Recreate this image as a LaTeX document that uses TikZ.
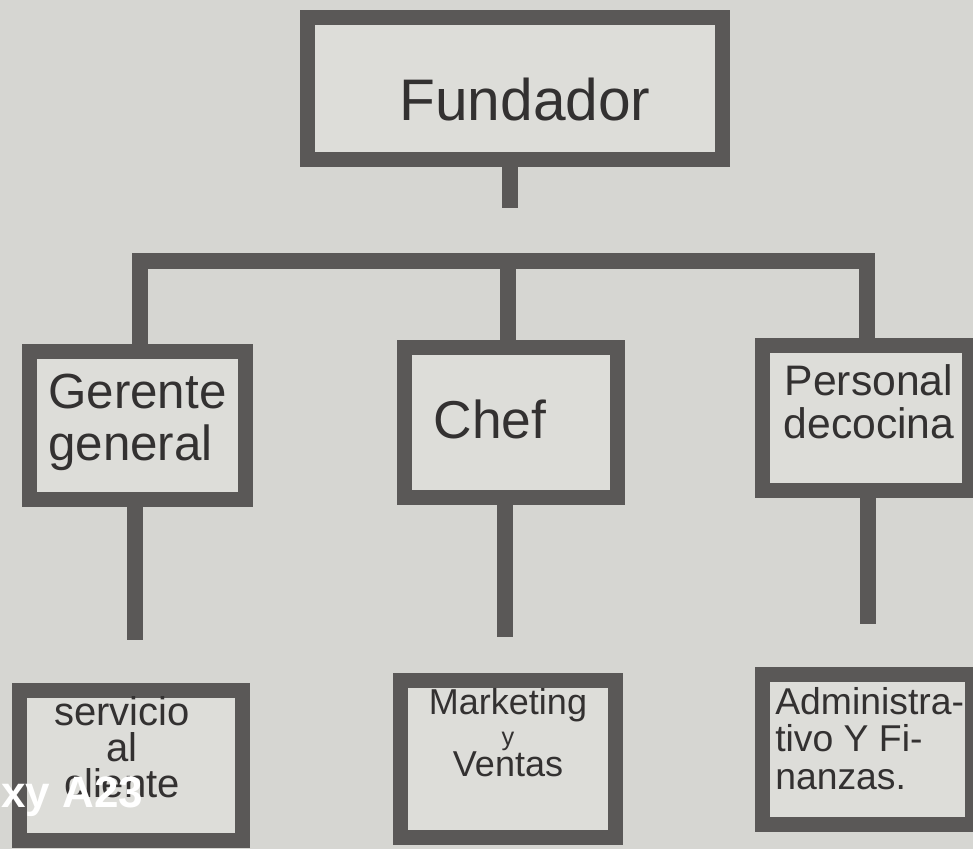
\documentclass[tikz,border=0pt]{standalone}
\usepackage{fontspec}
\setmainfont{Liberation Sans}
\definecolor{paper}{HTML}{D6D6D2}
\definecolor{boxin}{HTML}{DDDDD9}
\definecolor{ink}{HTML}{5A5857}
\definecolor{pen}{HTML}{333131}
\pgfdeclarelayer{paperlayer}
\pgfdeclarelayer{bg}
\pgfsetlayers{paperlayer,bg,main}
\tikzset{
  box/.style={draw=ink, fill=boxin, line width=11.25pt, inner sep=0pt},
  conn/.style={draw=ink, line width=12pt},
  hand/.style={text=pen, inner sep=0pt, execute at begin node={\lineskiplimit=-100pt}},
}
\begin{document}
\begin{tikzpicture}[x=0.75pt, y=-0.75pt]
\useasboundingbox (0,0) rectangle (973,849);
\begin{pgfonlayer}{paperlayer}
  \fill[paper] (0,0) rectangle (973,849);
\end{pgfonlayer}
\clip (0,0) rectangle (973,849);
% boxes
\node[box, minimum width=311.25pt, minimum height=106.5pt] (F) at (515,88.5) {};
\node[box, minimum width=162pt, minimum height=111pt] (G) at (137.5,425.5) {};
\node[box, minimum width=159.75pt, minimum height=112.5pt] (C) at (511,422.5) {};
\node[box, minimum width=155.25pt, minimum height=108.75pt] (P) at (866,418) {};
\node[box, minimum width=167.25pt, minimum height=112.5pt] (S) at (131,765.5) {};
\node[box, minimum width=161.25pt, minimum height=117.75pt] (M) at (508,759) {};
\node[box, minimum width=157.5pt, minimum height=112.5pt] (A) at (867.5,749.5) {};
% texts (base anchor of a multi-line node = baseline of its last line)
\node[hand, anchor=base, font=\fontsize{44}{50}\selectfont] (Ft) at (525,120) {Fundador};
\node[hand, anchor=base, font=\fontsize{40}{44}\selectfont] (Ct) at (490,438) {Chef};
\node[hand, anchor=base west, align=left, font=\fontsize{37}{39}\selectfont] (Gt) at (48,460) {Gerente\\general};
\node[hand, anchor=base, align=center, font=\fontsize{32}{32}\selectfont] (Pt) at (869,438) {Personal\\decocina};
\node[hand, anchor=base, align=center, font=\fontsize{30}{27}\selectfont] (St) at (122,797) {servicio\\al\\cliente};
\node[hand, anchor=base, align=center, font=\fontsize{27}{23}\selectfont] (Mt) at (508,776) {Marketing\\{\fontsize{19}{23}\selectfont y}\\Ventas};
\node[hand, anchor=base west, align=left, font=\fontsize{28}{28}\selectfont] (At) at (775,789) {Administra-\\tivo Y Fi-\\nanzas.};
\node[anchor=base west, text=white, inner sep=0pt, font=\bfseries\fontsize{33}{36}\selectfont] (wm) at (1,807) {xy A23};
% connector coordinates
\coordinate (fs) at (510,208);
\coordinate (barL) at (140,261);
\coordinate (barM) at (508,261);
\coordinate (barR) at (867,261);
\coordinate (gs) at (134.5,640);
\coordinate (cs) at (505,637);
\coordinate (ps) at (868,624);
\begin{pgfonlayer}{bg}
  \draw[conn] (fs |- F.center) -- (fs);
  \draw[conn, line join=miter] (barL |- G.center) -- (barL) -- (barR) -- (barR |- P.center);
  \draw[conn] (barM) -- (barM |- C.center);
  \draw[conn] (gs |- G.center) -- (gs);
  \draw[conn] (cs |- C.center) -- (cs);
  \draw[conn] (ps |- P.center) -- (ps);
\end{pgfonlayer}
\end{tikzpicture}
\end{document}
